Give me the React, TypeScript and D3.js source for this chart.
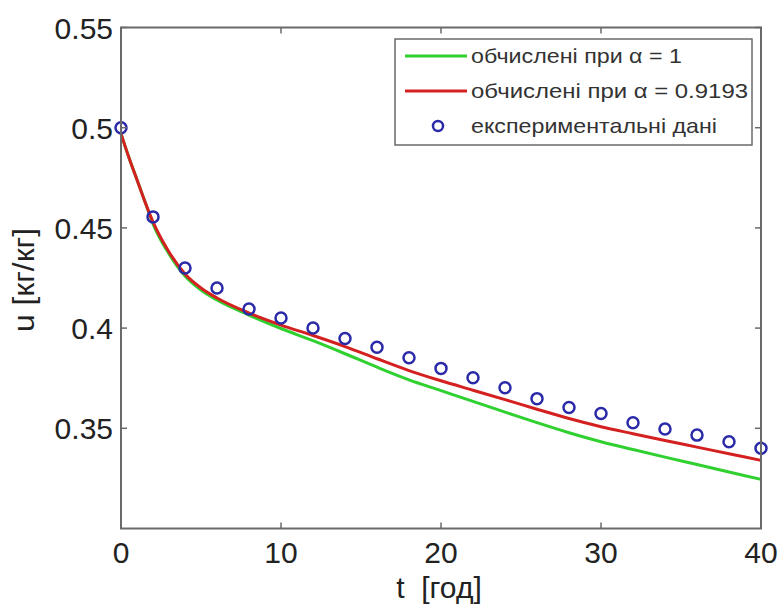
import React from "react";
import * as d3 from "d3";

const tExp = [0, 2, 4, 6, 8, 10, 12, 14, 16, 18, 20, 22, 24, 26, 28, 30, 32, 34, 36, 38, 40];
const uExp = [0.5, 0.4555, 0.43, 0.42, 0.4095, 0.405, 0.4, 0.3948, 0.3904, 0.3852, 0.3799, 0.3752, 0.3702, 0.3648, 0.3604, 0.3574, 0.3528, 0.3496, 0.3466, 0.3433, 0.34];

const tCalc = [0, 0.5, 1, 1.5, 2, 3, 4, 5, 6, 8, 10, 12, 14, 16, 18, 20, 22, 24, 26, 28, 30, 32, 34, 36, 38, 40];
const uAlpha1 = [0.497, 0.485, 0.474, 0.463, 0.452, 0.437, 0.426, 0.419, 0.414, 0.4065, 0.3998, 0.3937, 0.3872, 0.3805, 0.3742, 0.3688, 0.3634, 0.3581, 0.3528, 0.3478, 0.3433, 0.3394, 0.3356, 0.3319, 0.3282, 0.3245];
const uAlpha09193 = [0.497, 0.485, 0.474, 0.463, 0.453, 0.438, 0.427, 0.42, 0.415, 0.4075, 0.4015, 0.3963, 0.3908, 0.3847, 0.3788, 0.3737, 0.369, 0.3643, 0.3595, 0.3549, 0.3508, 0.3473, 0.3439, 0.3406, 0.3373, 0.334];

const xTicks = [0, 10, 20, 30, 40];
const yTicks = [0.35, 0.4, 0.45, 0.5, 0.55];
const yTickLabels = ["0.35", "0.4", "0.45", "0.5", "0.55"];

const legendLabels = ["обчислені при α = 1", "обчислені при α = 0.9193", "експериментальні дані"];
const legendWidths = [211, 277, 246];

const FONT = "Arial, 'Liberation Sans', sans-serif";

export default function App() {
  const W = 781, H = 605;
  const x = d3.scaleLinear().domain([0, 40]).range([121, 761]);
  const y = d3.scaleLinear().domain([0.3, 0.55]).range([528.5, 27.5]);
  const line = d3
    .line<number>()
    .x((_, i) => x(tCalc[i]))
    .y((d) => y(d))
    .curve(d3.curveMonotoneX);

  const axisColor = "#6a6a6a";
  const green = "#2fd02f";
  const red = "#d42020";
  const blue = "#2a2aa8";

  const [x0, x1] = x.range();
  const [yb, yt] = y.range();

  return (
    <svg width={W} height={H} style={{ position: "absolute", left: 0, top: 0, background: "#fff" }}>
      <rect x={0} y={0} width={W} height={H} fill="#fff" />
      <path d={line(uAlpha1) || ""} fill="none" stroke={green} strokeWidth={3} />
      <path d={line(uAlpha09193) || ""} fill="none" stroke={red} strokeWidth={3} />
      {tExp.map((t, i) => (
        <circle key={i} cx={x(t)} cy={y(uExp[i])} r={5.5} fill="none" stroke={blue} strokeWidth={2.5} />
      ))}
      <rect x={x0} y={yt} width={x1 - x0} height={yb - yt} fill="none" stroke={axisColor} strokeWidth={2} />
      {xTicks.map((t) => (
        <g key={"xt" + t}>
          <line x1={x(t)} x2={x(t)} y1={yb} y2={yb - 6} stroke={axisColor} strokeWidth={1.5} />
          <line x1={x(t)} x2={x(t)} y1={yt} y2={yt + 6} stroke={axisColor} strokeWidth={1.5} />
          <text x={x(t)} y={563} textAnchor="middle" fontFamily={FONT} fontSize={30} fill="#222">
            {t}
          </text>
        </g>
      ))}
      {yTicks.map((v, i) => (
        <g key={"yt" + v}>
          <line x1={x0} x2={x0 + 6} y1={y(v)} y2={y(v)} stroke={axisColor} strokeWidth={1.5} />
          <line x1={x1} x2={x1 - 6} y1={y(v)} y2={y(v)} stroke={axisColor} strokeWidth={1.5} />
          <text x={113} y={y(v) + 11} textAnchor="end" fontFamily={FONT} fontSize={30} fill="#222">
            {yTickLabels[i]}
          </text>
        </g>
      ))}
      <text x={439} y={598} textAnchor="middle" fontFamily={FONT} fontSize={30} fill="#222" style={{ whiteSpace: "pre" }}>
        {"t  [год]"}
      </text>
      <text
        transform={`translate(34,280) rotate(-90)`}
        textAnchor="middle"
        fontFamily={FONT}
        fontSize={30}
        fill="#222"
        textLength={104}
        lengthAdjust="spacingAndGlyphs"
      >
        u [кг/кг]
      </text>
      <rect x={395} y={39} width={357} height={106} fill="#fff" stroke={axisColor} strokeWidth={1.5} />
      <line x1={405} x2={467} y1={56} y2={56} stroke={green} strokeWidth={3} />
      <line x1={405} x2={467} y1={91} y2={91} stroke={red} strokeWidth={3} />
      <circle cx={438} cy={126} r={5} fill="none" stroke={blue} strokeWidth={2.5} />
      {legendLabels.map((s, i) => (
        <text
          key={s}
          x={471}
          y={56 + i * 35 + 7}
          fontFamily={FONT}
          fontSize={21}
          fill="#333"
          textLength={legendWidths[i]}
          lengthAdjust="spacingAndGlyphs"
        >
          {s}
        </text>
      ))}
    </svg>
  );
}
